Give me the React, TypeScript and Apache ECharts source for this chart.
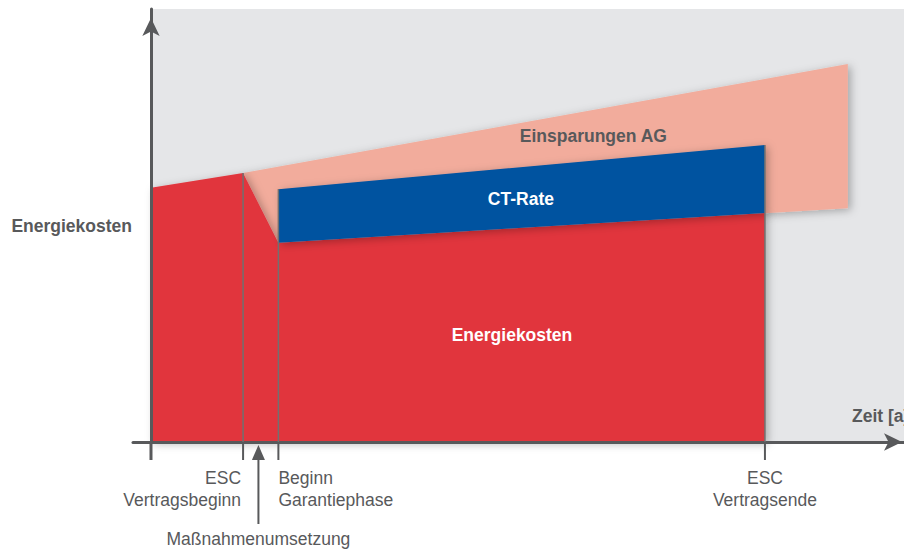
import { useEffect, useRef } from "react";
import * as echarts from "echarts";

// ---- Data (time in years, cost in relative units) ----
const milestoneYears = [0, 3, 4.15, 20];
const milestoneLabels = ["", "ESC\nVertragsbeginn", "Beginn\nGarantiephase", "ESC\nVertragsende"];
const implementationYear = 3.5;
const implementationLabel = "Maßnahmenumsetzung";

// Energy cost without measures (rising baseline)
const baselineYears = [0, 3, 22.7];
const baselineCost = [58.7, 62.1, 87.3];

// Energy cost after measures
const reducedYears = [4.15, 20, 22.7];
const reducedCost = [46.0, 52.9, 54.0];

// Upper edge of the contracting rate (CT-Rate)
const ctRateYears = [4.15, 20];
const ctRateTop = [58.4, 68.6];

const areaLabels = ["Einsparungen AG", "CT-Rate", "Energiekosten"];

// ---- Styling ----
const FONT = "'Liberation Sans', Arial, Helvetica, sans-serif";
const TEXT = "#58595B";
const RED = "#E1363E";
const SALMON = "#F2AC9C";
const BLUE = "#0052A0";
const BG = "#E5E6E8";

const X_MIN = -0.586;
const X_MAX = 24.53;
const Y_MAX = 100;

// polygons built from the arrays above
const energyPoly = [
  [baselineYears[0], 0],
  [baselineYears[0], baselineCost[0]],
  [baselineYears[1], baselineCost[1]],
  [reducedYears[0], reducedCost[0]],
  [reducedYears[1], reducedCost[1]],
  [reducedYears[1], 0],
];
const savingsPoly = [
  [baselineYears[1], baselineCost[1]],
  [baselineYears[2], baselineCost[2]],
  [reducedYears[2], reducedCost[2]],
  [reducedYears[0], reducedCost[0]],
];
const ctPoly = [
  [ctRateYears[0], ctRateTop[0]],
  [ctRateYears[1], ctRateTop[1]],
  [reducedYears[1], reducedCost[1]],
  [reducedYears[0], reducedCost[0]],
];
// top of the divider line drawn at each milestone
const dividerTops = [null, baselineCost[1], ctRateTop[0], ctRateTop[1]];

const shadow = {
  shadowBlur: 9,
  shadowColor: "rgba(0,0,0,0.28)",
  shadowOffsetX: 3,
  shadowOffsetY: 2,
};

function polygonSeries(name: string, pts: number[][], color: string, z: number, withShadow: boolean) {
  return {
    type: "custom",
    name,
    coordinateSystem: "cartesian2d",
    clip: false,
    silent: true,
    z,
    data: pts,
    encode: { x: 0, y: 1 },
    renderItem: (params: any, api: any) => {
      if (params.dataIndex !== 0) return null;
      return {
        type: "polygon",
        shape: { points: pts.map((p) => api.coord(p)) },
        style: Object.assign({ fill: color }, withShadow ? shadow : {}),
      };
    },
  };
}

export default function App() {
  const ref = useRef<HTMLDivElement>(null);
  useEffect(() => {
    if (!ref.current) return;
    const chart = echarts.init(ref.current, undefined, { renderer: "svg" });
    const bold = { fontFamily: FONT, fontSize: 17.5, fontWeight: "bold" };
    const normal = { fontFamily: FONT, fontSize: 17.5, fontWeight: "normal" };

    const option: any = {
      animation: false,
      backgroundColor: "#ffffff",
      grid: { left: 133, right: 0, top: 9, bottom: 107, containLabel: false, outerBoundsMode: "none" },
      xAxis: {
        type: "value",
        min: X_MIN,
        max: X_MAX,
        z: 10,
        axisLine: {
          show: true,
          onZero: true,
          symbol: ["none", "arrow"],
          symbolSize: [13, 18],
          symbolOffset: [0, -2],
          lineStyle: { color: TEXT, width: 3 },
        },
        axisTick: { show: false },
        axisLabel: { show: false },
        splitLine: { show: false },
      },
      yAxis: {
        type: "value",
        min: 0,
        max: Y_MAX,
        z: 10,
        name: "Energiekosten",
        nameLocation: "middle",
        nameRotate: 0,
        nameGap: 1,
        nameTextStyle: Object.assign({ color: TEXT }, bold),
        axisLine: {
          show: true,
          onZero: true,
          symbol: ["none", "arrow"],
          symbolSize: [13, 18],
          symbolOffset: [0, -9],
          lineStyle: { color: TEXT, width: 3 },
        },
        axisTick: { show: false },
        axisLabel: { show: false },
        splitLine: { show: false },
      },
      graphic: [
        {
          type: "text",
          x: 852,
          y: 416,
          z: 20,
          style: Object.assign({ text: "Zeit [a]", fill: TEXT, verticalAlign: "middle", align: "left" }, bold),
        },
      ],
      series: [
        {
          type: "custom",
          name: "background",
          coordinateSystem: "cartesian2d",
          clip: false,
          silent: true,
          z: 1,
          data: [[0, 0]],
          renderItem: (_p: any, api: any) => {
            const a = api.coord([0, Y_MAX]);
            const b = api.coord([X_MAX, 0]);
            return {
              type: "rect",
              shape: { x: a[0], y: a[1], width: b[0] - a[0], height: b[1] - a[1] },
              style: { fill: BG },
            };
          },
        },
        polygonSeries("Einsparungen AG", savingsPoly, SALMON, 2, true),
        polygonSeries("Energiekosten", energyPoly, RED, 3, true),
        polygonSeries("CT-Rate", ctPoly, BLUE, 4, true),
        {
          type: "custom",
          name: "milestones",
          coordinateSystem: "cartesian2d",
          clip: false,
          silent: true,
          z: 12,
          data: milestoneYears.map((t, i) => [t, 0, i]),
          renderItem: (params: any, api: any) => {
            const i = params.dataIndex;
            const t = milestoneYears[i];
            const base = api.coord([t, 0]);
            const children: any[] = [];
            children.push({
              type: "line",
              shape: { x1: base[0], y1: base[1], x2: base[0], y2: base[1] + 18 },
              style: { stroke: TEXT, lineWidth: i === 0 ? 3 : 2 },
            });
            const top = dividerTops[i];
            if (top != null) {
              const tp = api.coord([t, top]);
              children.push({
                type: "line",
                shape: { x1: tp[0], y1: tp[1], x2: base[0], y2: base[1] },
                style: { stroke: "#707070", lineWidth: 1.5 },
              });
            }
            const label = milestoneLabels[i];
            if (label) {
              const align = i === 1 ? "right" : i === 2 ? "left" : "center";
              const dx = i === 1 ? -2 : 0;
              children.push({
                type: "text",
                x: base[0] + dx,
                y: base[1] + 25,
                style: Object.assign(
                  { text: label, fill: TEXT, align, verticalAlign: "top", lineHeight: 22 },
                  normal
                ),
              });
            }
            return { type: "group", children };
          },
        },
        {
          type: "custom",
          name: "implementation",
          coordinateSystem: "cartesian2d",
          clip: false,
          silent: true,
          z: 12,
          data: [[implementationYear, 0]],
          renderItem: (_p: any, api: any) => {
            const p = api.coord([implementationYear, 0]);
            return {
              type: "group",
              children: [
                {
                  type: "line",
                  shape: { x1: p[0], y1: p[1] + 16, x2: p[0], y2: p[1] + 82 },
                  style: { stroke: TEXT, lineWidth: 2 },
                },
                {
                  type: "polygon",
                  shape: {
                    points: [
                      [p[0], p[1] + 3],
                      [p[0] + 6.5, p[1] + 18],
                      [p[0] - 6.5, p[1] + 18],
                    ],
                  },
                  style: { fill: TEXT },
                },
                {
                  type: "text",
                  x: p[0],
                  y: p[1] + 87,
                  style: Object.assign(
                    { text: implementationLabel, fill: TEXT, align: "center", verticalAlign: "top", lineHeight: 20 },
                    normal
                  ),
                },
              ],
            };
          },
        },
        {
          type: "custom",
          name: "areaLabels",
          coordinateSystem: "cartesian2d",
          clip: false,
          silent: true,
          z: 13,
          data: [
            [14.41, 70.7],
            [12.05, 56.1],
            [11.76, 24.7],
          ],
          renderItem: (params: any, api: any) => {
            const i = params.dataIndex;
            const p = api.coord([api.value(0), api.value(1)]);
            return {
              type: "text",
              x: p[0],
              y: p[1],
              style: Object.assign(
                {
                  text: areaLabels[i],
                  fill: i === 0 ? TEXT : "#ffffff",
                  align: "center",
                  verticalAlign: "middle",
                },
                bold
              ),
            };
          },
        },
      ],
    };
    chart.setOption(option);
    return () => chart.dispose();
  }, []);
  return (
    <div
      ref={ref}
      style={{ position: "fixed", left: 0, top: 0, width: 904, height: 549, background: "#fff" }}
    />
  );
}
